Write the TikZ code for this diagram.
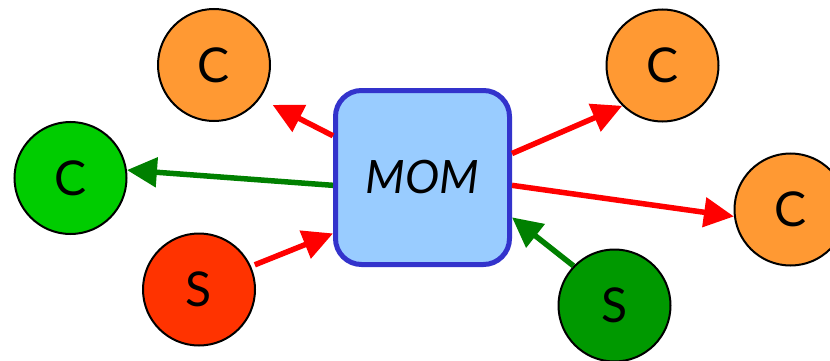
\documentclass[tikz,border=0pt]{standalone}
\usepackage{fontspec}
\setmainfont{Lato}
\usetikzlibrary{arrows.meta}
\definecolor{corange}{HTML}{FF9933}
\definecolor{clight}{HTML}{00CC00}
\definecolor{cred}{HTML}{FF3300}
\definecolor{cdark}{HTML}{009900}
\definecolor{cline}{HTML}{FF0000}
\definecolor{cgline}{HTML}{008000}
\definecolor{mfill}{HTML}{99CCFF}
\definecolor{mborder}{HTML}{3333CC}

\begin{document}
\begin{tikzpicture}[x=1pt,y=-1pt,line width=5.5pt,
	-{Triangle[length=30pt,width=29pt]},
	peer/.style={circle,draw=black,line width=2pt,minimum size=112pt,inner sep=0pt,font=\fontsize{48}{50}\selectfont},
	mom/.style={rectangle,draw=mborder,fill=mfill,line width=5pt,rounded corners=26pt,minimum size=174pt,font=\fontsize{46}{50}\selectfont\itshape}]
	\useasboundingbox (0,0) rectangle (830,361);
	\node[peer,fill=corange] (C1) at (214,65) {C};
	\node[peer,fill=corange] (C2) at (662.5,65.5) {C};
	\node[peer,fill=corange] (C3) at (790.5,209.5) {C};
	\node[peer,fill=clight] (C4) at (70.5,178) {C};
	\node[peer,fill=cred] (S1) at (199,289.5) {S};
	\node[peer,fill=cdark] (S2) at (614.5,305.5) {S};
	\node[mom] (M) at (422.5,177.5) {MOM};
	\draw[cline,shorten >=14pt] (M.155) -- (C1.-36);
	\draw[cgline] (M.185) -- (C4.8);
	\draw[cline,shorten <=4pt] (S1.24) -- (M.212);
	\draw[cline] (M.15) -- (C2.225);
	\draw[cline] (M.-5) -- (C3.187);
	\draw[cgline] (S2.136) -- (M.-24);
\end{tikzpicture}
\end{document}
